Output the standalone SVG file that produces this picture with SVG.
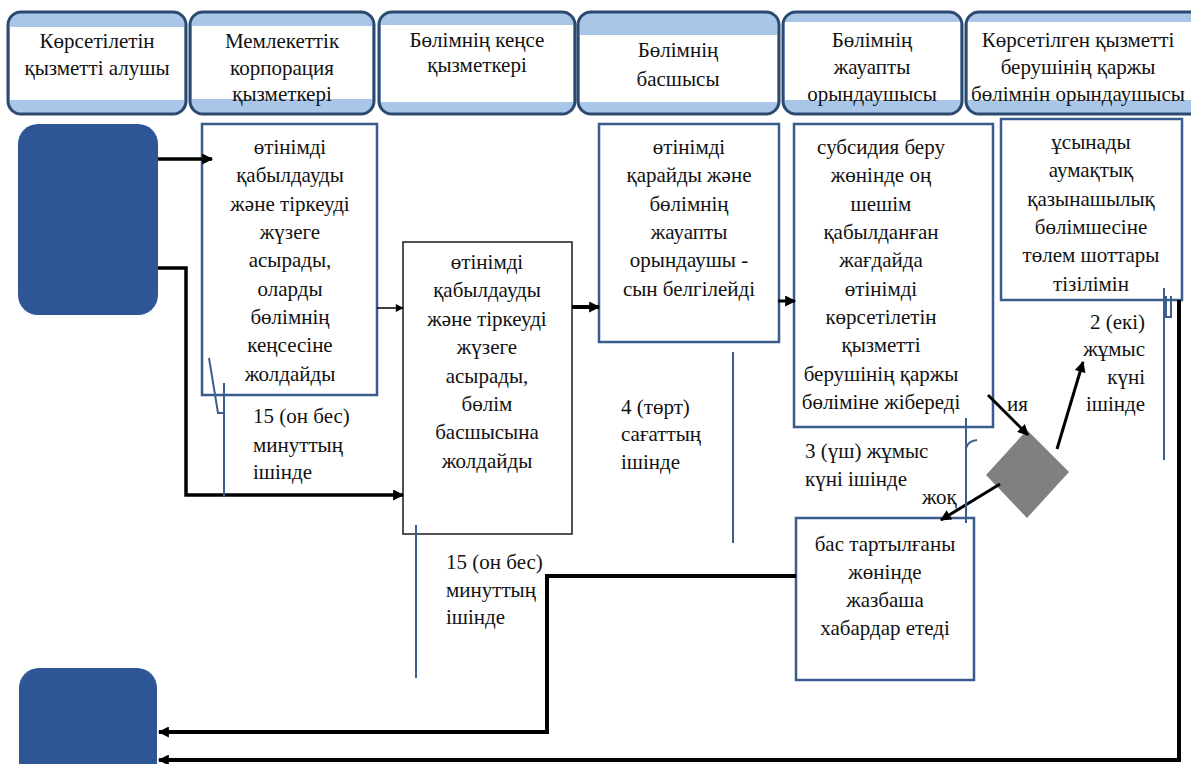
<svg xmlns="http://www.w3.org/2000/svg" width="1191" height="764" viewBox="0 0 1191 764">
<style>
text{font-family:"Liberation Serif","Times New Roman",serif;font-size:21px;fill:#111;}
.c{text-anchor:middle;}
.r{text-anchor:end;}
.hdr{fill:#a9c6e8;stroke:#2c4a70;stroke-width:3;}
.hin{fill:#fff;}
.bb{fill:#fff;stroke:#3a5b8e;stroke-width:2.5;}
.kb{fill:#fff;stroke:#1a1a1a;stroke-width:1.5;}
.term{fill:#2e5595;}
.dia{fill:#808080;}
.k{fill:none;stroke:#000;}
.tk{fill:none;stroke:#3b5f8c;stroke-width:2;}
</style>
<defs>
<marker id="ah" viewBox="0 0 10 10" refX="9" refY="5" markerUnits="userSpaceOnUse" markerWidth="12" markerHeight="11" orient="auto"><path d="M0,0 L10,5 L0,10 z" fill="#000"/></marker>
<marker id="as" viewBox="0 0 10 10" refX="9" refY="5" markerUnits="userSpaceOnUse" markerWidth="9" markerHeight="8" orient="auto"><path d="M0,0 L10,5 L0,10 z" fill="#000"/></marker>
</defs>

<g id="header-1">
<rect class="hdr" x="8" y="12" width="178" height="102" rx="13"/>
<rect class="hin" x="10" y="27" width="174" height="73"/>
<text class="c" x="97" y="48">Көрсетілетін</text>
<text class="c" x="97" y="75">қызметті алушы</text>
</g>
<g id="header-2">
<rect class="hdr" x="190" y="12" width="184" height="102" rx="13"/>
<rect class="hin" x="192" y="26" width="180" height="73"/>
<text class="c" x="282" y="48">Мемлекеттік</text>
<text class="c" x="282" y="75">корпорация</text>
<text class="c" x="282" y="101">қызметкері</text>
</g>
<g id="header-3">
<rect class="hdr" x="379" y="12" width="196" height="102" rx="13"/>
<rect class="hin" x="381" y="25" width="192" height="77"/>
<text class="c" x="477" y="47">Бөлімнің кеңсе</text>
<text class="c" x="477" y="72">қызметкері</text>
</g>
<g id="header-4">
<rect class="hdr" x="578" y="12" width="201" height="102" rx="13"/>
<rect class="hin" x="580" y="35" width="197" height="67"/>
<text class="c" x="678" y="57">Бөлімнің</text>
<text class="c" x="678" y="86">басшысы</text>
</g>
<g id="header-5">
<rect class="hdr" x="783" y="12" width="179" height="102" rx="13"/>
<rect class="hin" x="785" y="22" width="175" height="78"/>
<text class="c" x="872" y="47">Бөлімнің</text>
<text class="c" x="872" y="74">жауапты</text>
<text class="c" x="872" y="101">орындаушысы</text>
</g>
<g id="header-6">
<rect class="hdr" x="966" y="12" width="240" height="102" rx="13"/>
<rect class="hin" x="968" y="22" width="236" height="78"/>
<text class="c" x="1078" y="47">Көрсетілген қызметті</text>
<text class="c" x="1078" y="74">берушінің қаржы</text>
<text class="c" x="1078" y="101">бөлімнін орындаушысы</text>
</g>

<g id="start">
<rect class="term" x="18" y="124" width="140" height="191" rx="20"/>
</g>
<g id="end">
<rect class="term" x="19" y="668" width="138" height="130" rx="20"/>
</g>

<g id="step-1">
<rect class="bb" x="202" y="124" width="175" height="271"/>
<text class="c" x="290" y="154">өтінімді</text>
<text class="c" x="290" y="182">қабылдауды</text>
<text class="c" x="290" y="211">және тіркеуді</text>
<text class="c" x="290" y="239">жүзеге</text>
<text class="c" x="290" y="267">асырады,</text>
<text class="c" x="290" y="296">оларды</text>
<text class="c" x="290" y="324">бөлімнің</text>
<text class="c" x="290" y="352">кеңсесіне</text>
<text class="c" x="290" y="381">жолдайды</text>
</g>
<g id="step-2">
<rect class="kb" x="403" y="242" width="169" height="292"/>
<text class="c" x="487" y="269">өтінімді</text>
<text class="c" x="487" y="297">қабылдауды</text>
<text class="c" x="487" y="326">және тіркеуді</text>
<text class="c" x="487" y="354">жүзеге</text>
<text class="c" x="487" y="383">асырады,</text>
<text class="c" x="487" y="411">бөлім</text>
<text class="c" x="487" y="439">басшысына</text>
<text class="c" x="487" y="468">жолдайды</text>
</g>
<g id="step-3">
<rect class="bb" x="599" y="124" width="180" height="218"/>
<text class="c" x="689" y="154">өтінімді</text>
<text class="c" x="689" y="182">қарайды және</text>
<text class="c" x="689" y="211">бөлімнің</text>
<text class="c" x="689" y="239">жауапты</text>
<text class="c" x="689" y="267">орындаушы -</text>
<text class="c" x="689" y="296">сын белгілейді</text>
</g>
<g id="step-4">
<rect class="bb" x="794" y="124" width="199" height="303"/>
<text class="c" x="881" y="154">субсидия беру</text>
<text class="c" x="881" y="182">жөнінде оң</text>
<text class="c" x="881" y="211">шешім</text>
<text class="c" x="881" y="239">қабылданған</text>
<text class="c" x="881" y="267">жағдайда</text>
<text class="c" x="881" y="296">өтінімді</text>
<text class="c" x="881" y="324">көрсетілетін</text>
<text class="c" x="881" y="352">қызметті</text>
<text class="c" x="881" y="381">берушінің қаржы</text>
<text class="c" x="881" y="409">бөліміне жібереді</text>
</g>
<g id="step-5">
<rect class="bb" x="1001" y="119" width="181" height="181"/>
<text class="c" x="1091" y="149">ұсынады</text>
<text class="c" x="1091" y="177">аумақтық</text>
<text class="c" x="1091" y="206">қазынашылық</text>
<text class="c" x="1091" y="234">бөлімшесіне</text>
<text class="c" x="1091" y="262">төлем шоттары</text>
<text class="c" x="1091" y="291">тізілімін</text>
</g>
<g id="decision">
<polygon class="dia" points="1027,430 1069,472 1027,518 986,475"/>
</g>
<g id="step-6">
<rect class="bb" x="796" y="518" width="178" height="162"/>
<text class="c" x="885" y="551">бас тартылғаны</text>
<text class="c" x="885" y="579">жөнінде</text>
<text class="c" x="885" y="607">жазбаша</text>
<text class="c" x="885" y="635">хабардар етеді</text>
</g>

<g id="connectors">
<path class="k" stroke-width="3.5" d="M158,159 H212" marker-end="url(#ah)"/>
<path class="k" stroke-width="3.5" d="M158,268 H186 V495 H403" marker-end="url(#ah)"/>
<path class="k" stroke-width="1.5" d="M377,308 H403" marker-end="url(#as)"/>
<path class="k" stroke-width="4" d="M572,307 H599" marker-end="url(#ah)"/>
<path class="k" stroke-width="3" d="M778,301 H795" marker-end="url(#ah)"/>
<path class="k" stroke-width="3" d="M988,395 L1028,435" marker-end="url(#ah)"/>
<path class="k" stroke-width="3" d="M1000,484 L941,520" marker-end="url(#ah)"/>
<path class="k" stroke-width="3" d="M1057,449 L1083,362" marker-end="url(#ah)"/>
<path class="k" stroke-width="4" d="M1179,300 V760 H159" marker-end="url(#ah)"/>
<path class="k" stroke-width="4" d="M796,576 H547 V732 H159" marker-end="url(#ah)"/>
</g>

<g id="timing-marks">
<path class="tk" d="M209,358 L218,413 H224"/>
<path class="tk" d="M224,383 V497"/>
<path class="tk" d="M416,525 V678"/>
<path class="tk" d="M733,352 V543"/>
<path class="tk" d="M966,418 V523"/>
<path class="tk" d="M966,448 Q968,441 977,440"/>
<path class="tk" d="M1164,288 V460"/>
<path class="tk" d="M1166,296 V317 H1171 V296"/>
</g>

<g id="labels">
<text x="253" y="423">15 (он бес)</text>
<text x="253" y="452">минуттың</text>
<text x="253" y="479">ішінде</text>
<text x="621" y="414">4 (төрт)</text>
<text x="621" y="441">сағаттың</text>
<text x="621" y="469">ішінде</text>
<text x="805" y="458">3 (үш) жұмыс</text>
<text x="805" y="486">күні ішінде</text>
<text x="922" y="504">жоқ</text>
<text x="1007" y="411">ия</text>
<text class="r" x="1145" y="329">2 (екі)</text>
<text class="r" x="1145" y="356">жұмыс</text>
<text class="r" x="1145" y="384">күні</text>
<text class="r" x="1145" y="411">ішінде</text>
<text x="446" y="569">15 (он бес)</text>
<text x="446" y="597">минуттың</text>
<text x="446" y="624">ішінде</text>
</g>
</svg>
